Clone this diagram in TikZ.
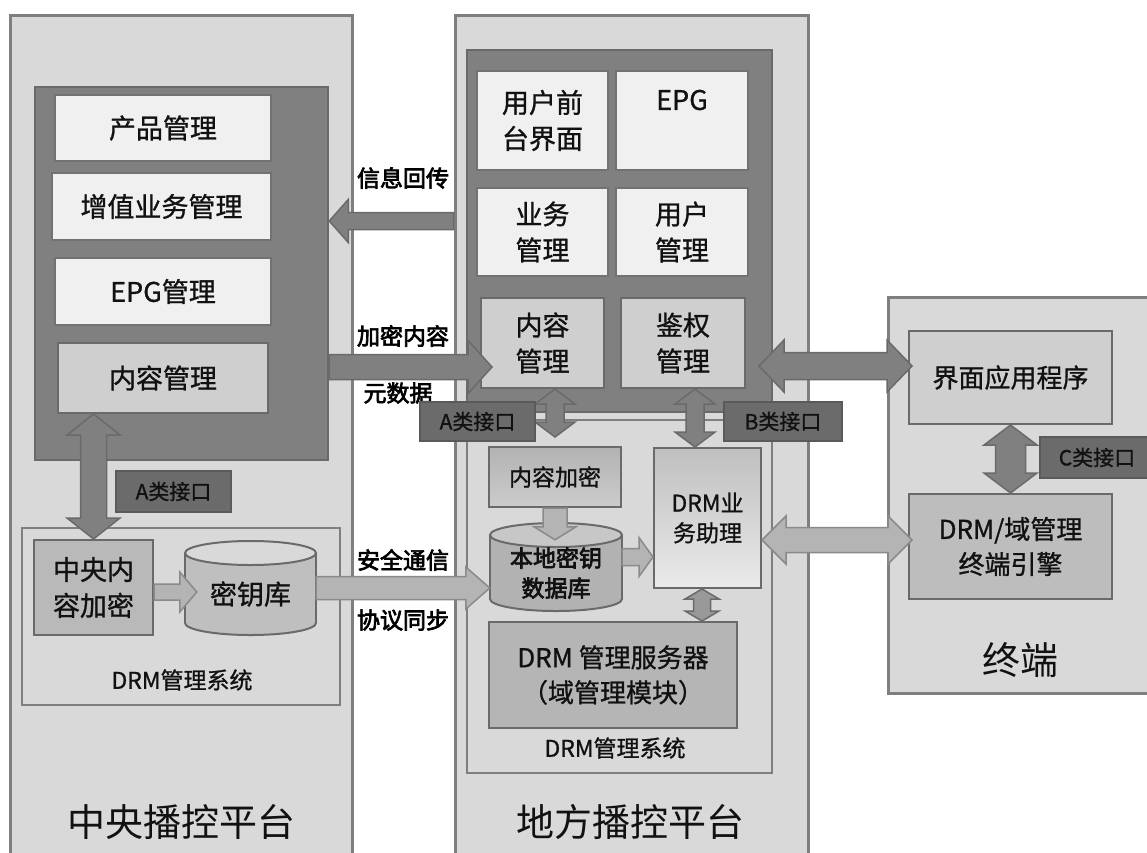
\documentclass[tikz,border=0pt]{standalone}
\usepackage{fontspec}
\newfontfamily\cjk[FakeBold=1]{Noto Sans CJK SC}
\newfontfamily\cjkl{Noto Sans CJK SC}
\newfontfamily\cjkb[FakeBold=3]{Noto Sans CJK SC}
\usetikzlibrary{calc}
\definecolor{cbord}{HTML}{7F7F7F}
\definecolor{cplat}{HTML}{D9D9D9}
\definecolor{cdkb}{HTML}{6A6A6A}
\definecolor{cdark}{HTML}{808080}
\definecolor{cwhite}{HTML}{F0F0F0}
\definecolor{cmid}{HTML}{CFCFCF}
\definecolor{cmid2}{HTML}{B9B9B9}
\definecolor{cifc}{HTML}{6B6B6B}
\definecolor{cifcb}{HTML}{5A5A5A}
\definecolor{clarr}{HTML}{B4B4B4}
\definecolor{clarb}{HTML}{8A8A8A}
\definecolor{ctxt}{HTML}{111111}
\newcommand\sglarrow[6]{%
  \coordinate (aT) at (#2);
  \coordinate (aH) at (#3);
  \coordinate (hb) at ($(aH)!#6!(aT)$);
  \draw[#1] ($(aT)!#4!90:(aH)$) -- ($(hb)!#4!90:(aH)$) -- ($(hb)!#5!90:(aH)$) -- (aH)
    -- ($(hb)!#5!-90:(aH)$) -- ($(hb)!#4!-90:(aH)$) -- ($(aT)!#4!-90:(aH)$) -- cycle;}
\newcommand\dblarrow[6]{%
  \coordinate (aT) at (#2);
  \coordinate (aH) at (#3);
  \coordinate (h1) at ($(aT)!#6!(aH)$);
  \coordinate (h2) at ($(aH)!#6!(aT)$);
  \draw[#1] (aT) -- ($(h1)!#5!90:(aH)$) -- ($(h1)!#4!90:(aH)$) -- ($(h2)!#4!90:(aH)$)
    -- ($(h2)!#5!90:(aH)$) -- (aH) -- ($(h2)!#5!-90:(aH)$) -- ($(h2)!#4!-90:(aH)$)
    -- ($(h1)!#4!-90:(aH)$) -- ($(h1)!#5!-90:(aH)$) -- cycle;}
\begin{document}
\begin{tikzpicture}[x=1pt,y=-1pt,
  plat/.style={draw=cbord, fill=cplat, line width=3, inner sep=0},
  dk/.style={draw=cdkb, fill=cdark, line width=2.5, inner sep=0},
  wb/.style={draw=cbord!110, fill=cwhite, line width=2, inner sep=0, text=ctxt, align=center,
    font=\cjk\fontsize{27}{36}\selectfont},
  mb/.style={wb, fill=cmid, draw=cdkb},
  ifc/.style={draw=cifcb, fill=cifc, line width=1.5, inner sep=0, text=ctxt,
    font=\cjk\fontsize{21}{21}\selectfont},
  lbl/.style={font=\cjkb\fontsize{23}{23}\selectfont, text=black, inner sep=0},
  ttl/.style={font=\cjkl\fontsize{38}{38}\selectfont, text=ctxt, inner sep=0},
  sub/.style={font=\cjk\fontsize{23}{23}\selectfont, text=ctxt, inner sep=0},
  darr/.style={draw=cdkb, fill=cdark, line width=1.5},
  larr/.style={draw=clarb, fill=clarr, line width=1.5},
  marr/.style={draw=cdkb, fill=black!40, line width=1.5},
  cyll/.style={draw=cdkb, line width=2}]
\useasboundingbox (0,0) rectangle (1147,852);
\clip (0,0) rectangle (1147,852);
\fill[white] (0,0) rectangle (1147,852);

% platforms
\node[plat, minimum width=342, minimum height=850] (lplat) at (181,440) {};
\node[plat, minimum width=353, minimum height=850] (mplat) at (631.5,440) {};
\node[plat, minimum width=272, minimum height=396] (term) at (1024,495) {};

% left platform
\node[dk, minimum width=293, minimum height=373] (ldark) at (181.5,273.5) {};
\node[wb, minimum width=216, minimum height=66] (cp) at (163,128) {产品管理};
\node[wb, minimum width=219, minimum height=67] (zz) at (161.5,206.5) {增值业务管理};
\node[wb, minimum width=216, minimum height=67] (epgm) at (163,291.5) {EPG管理};
\node[mb, minimum width=210, minimum height=70] (lcm) at (163,378) {内容管理};
\node[plat, line width=2.5, minimum width=318, minimum height=177] (ldrm) at (181,616.5) {};
\node[mb, fill=cmid2, minimum width=119, minimum height=95] (zycj) at (93.5,587.5) {中央内\\容加密};
% key store cylinder
\filldraw[cyll, fill=black!25] (250.5,623) ellipse [x radius=65.5, y radius=12];
\fill[black!25] (185,553) rectangle (316,623);
\draw[cyll] (185,553) -- (185,623) (316,553) -- (316,623);
\filldraw[cyll, fill=cplat] (250.5,553) ellipse [x radius=65.5, y radius=12];
\node[inner sep=0, minimum width=131, minimum height=82, text=ctxt, font=\cjk\fontsize{27}{36}\selectfont] (kdb) at (250.5,594) {密钥库};
\node[sub] (ldrmt) at (182,680) {DRM管理系统};
\node[ttl] (ltitle) at (181,822) {中央播控平台};

% middle platform
\node[dk, minimum width=305, minimum height=362] (mdark) at (619.5,231) {};
\node[wb, minimum width=131, minimum height=99] (yhqt) at (542.5,120.5) {用户前\\台界面};
\node[wb, minimum width=132, minimum height=99] (epg) at (682,120.5) {};
\node[wb, draw=none, fill=none] (epgt) at (682,100) {EPG};
\node[wb, minimum width=131, minimum height=88] (ywgl) at (542.5,232) {业务\\管理};
\node[wb, minimum width=132, minimum height=88] (yhgl) at (682,232) {用户\\管理};
\node[mb, minimum width=123, minimum height=90] (mcm) at (542.5,343) {内容\\管理};
\node[mb, minimum width=124, minimum height=90] (jq) at (683,343) {鉴权\\管理};
\node[plat, line width=2.5, minimum width=305, minimum height=353] (mdrm) at (619.5,596.5) {};
\node[wb, draw=cdkb, top color=black!30, bottom color=black!20, minimum width=132, minimum height=60,
  font=\cjk\fontsize{23}{30}\selectfont] (ncj) at (555,477) {内容加密};
% local key database cylinder
\filldraw[cyll, fill=black!30] (556,599) ellipse [x radius=66, y radius=12];
\fill[black!30] (490,535) rectangle (622,599);
\draw[cyll] (490,535) -- (490,599) (622,535) -- (622,599);
\filldraw[cyll, fill=black!22] (556,535) ellipse [x radius=66, y radius=12];
\node[inner sep=0, minimum width=132, minimum height=76, text=ctxt, align=center,
  font=\cjkb\fontsize{23}{30}\selectfont] (bdk) at (556,573) {本地密钥\\数据库};
\node[wb, draw=cdkb, top color=black!25, bottom color=black!8, minimum width=107, minimum height=140,
  font=\cjk\fontsize{23}{30}\selectfont] (drmzl) at (707.5,518) {DRM业\\务助理};
\node[mb, fill=black!29, minimum width=248, minimum height=106,
  font=\cjk\fontsize{26}{35}\selectfont] (drmsrv) at (613,675) {DRM 管理服务器\\（域管理模块）};
\node[sub] (mdrmt) at (615,748) {DRM管理系统};
\node[ttl] (mtitle) at (630,822) {地方播控平台};

% terminal
\node[mb, minimum width=203, minimum height=93, font=\cjk\fontsize{26}{35}\selectfont] (jmyy) at (1010.5,377.5) {界面应用程序};
\node[mb, fill=black!26, minimum width=203, minimum height=105, font=\cjk\fontsize{26}{35}\selectfont] (drmy) at (1010.5,546.5) {DRM/域管理\\终端引擎};
\node[ttl] (ttitle) at (1020,660) {终端};

% helper coordinates
\coordinate (mcmin) at ([xshift=12pt]mcm.west);
\coordinate (jqe) at ([xshift=13pt]jq.east);
\coordinate (kdbw) at ([xshift=12pt]kdb.west);
\coordinate (ncjn) at ([yshift=9pt]ncj.north);
\coordinate (drmzln) at ([xshift=-12.5pt]drmzl.north);
\coordinate (bdkt) at ([yshift=-5pt]bdk.north);
\coordinate (sx) at ([xshift=-5.5pt]drmzl.south);
\coordinate (drmyw) at ([xshift=4pt]drmy.west);
\coordinate (jmyyw) at ([xshift=4pt]jmyy.west);

% connectors
\sglarrow{darr}{mplat.west |- 0,221}{ldark.east |- 0,221}{8.5pt}{21.5pt}{19pt}
\sglarrow{darr}{ldark.east |- 0,367}{mcmin |- 0,367}{12.5pt}{26.5pt}{24pt}
\dblarrow{darr}{jqe |- 0,366}{jmyyw |- 0,366}{13.5pt}{26pt}{25pt}
\dblarrow{darr}{zycj.north |- lcm.south}{zycj.north}{13pt}{26.5pt}{21pt}
\sglarrow{larr}{zycj.east |- 0,592}{kdbw |- 0,592}{8pt}{20pt}{17pt}
\sglarrow{larr}{kdb.east |- 0,588}{bdk.west |- 0,588}{11.5pt}{21pt}{24pt}
\dblarrow{darr}{ncj.north |- mcm.south}{ncjn}{9pt}{20pt}{15pt}
\dblarrow{darr}{drmzln |- jq.south}{drmzln}{9pt}{20pt}{15pt}
\sglarrow{larr}{ncj.south}{ncj.south |- bdkt}{12pt}{21pt}{13pt}
\sglarrow{larr}{bdk.east |- 0,557}{drmzl.west |- 0,557}{8.5pt}{19.5pt}{14pt}
\dblarrow{marr}{sx}{sx |- drmsrv.north}{8.5pt}{17pt}{10pt}
\dblarrow{larr}{drmzl.east |- 0,540}{drmyw |- 0,540}{12.5pt}{24pt}{24pt}
\dblarrow{darr}{jmyy.south}{jmyy.south |- drmy.north}{15pt}{26.5pt}{20pt}

% labels
\node[lbl] (l1) at (403,178) {信息回传};
\node[lbl] (l2) at (403,336) {加密内容};
\node[lbl] (l3) at (398,393) {元数据};
\node[lbl] (l4) at (403,560) {安全通信};
\node[lbl] (l5) at (403,620) {协议同步};

% interface labels
\node[ifc, minimum width=115, minimum height=41] (lA) at (173.5,491.5) {A类接口};
\node[ifc, minimum width=115, minimum height=39] (mA) at (477.5,421.5) {A类接口};
\node[ifc, minimum width=118, minimum height=39] (mB) at (783,421.5) {B类接口};
\node[ifc, minimum width=120, minimum height=41] (cC) at (1100,457.5) {\hspace*{-6pt}C类接口};
\end{tikzpicture}
\end{document}
